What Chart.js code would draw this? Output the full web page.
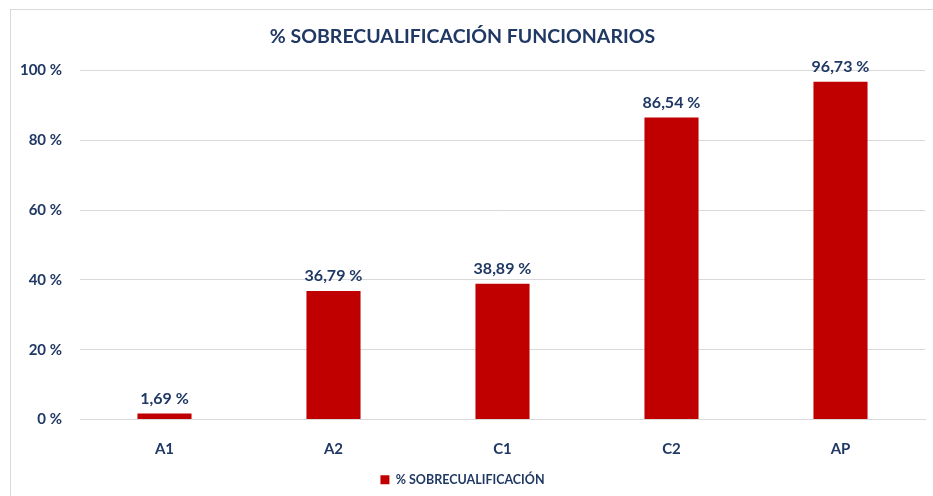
<!DOCTYPE html>
<html>
<head>
<meta charset="utf-8">
<style>
  html, body { margin: 0; padding: 0; background: #fff; }
  #wrap { position: relative; width: 933px; height: 496px; overflow: hidden; }
  #frame { position: absolute; left: 10px; top: 9px; width: 940px; height: 500px;
           border-left: 1px solid #d9d9d9; border-top: 1px solid #d9d9d9; }
  canvas { position: absolute; left: 0; top: 0; }
</style>
</head>
<body>
<div id="wrap">
  <div id="frame"></div>
  <canvas id="chart" width="933" height="496"></canvas>
</div>

<script src="https://cdn.jsdelivr.net/npm/chart.js"></script>
<script>
    const categories = ['A1', 'A2', 'C1', 'C2', 'AP']
    const sobrecualificacion = [1.69, 36.79, 38.89, 86.54, 96.73]
    const yTicks = [0, 20, 40, 60, 80, 100]

    const navy = '#1f3864'
    const red = '#c00000'
    const font = 'Lato, "Open Sans", sans-serif'

    // etiquetas encima de cada barra
    const barLabels = {
        id: 'barLabels',
        afterDatasetsDraw(chart) {
            const ctx = chart.ctx
            ctx.save()
            ctx.fillStyle = navy
            ctx.font = 'bold 16px ' + font
            ctx.textAlign = 'center'
            ctx.textBaseline = 'bottom'
            chart.getDatasetMeta(0).data.forEach((bar, i) => {
                const v = chart.data.datasets[0].data[i]
                ctx.fillText(v.toFixed(2).replace('.', ',') + ' %', bar.x, bar.y - 7)
            })
            ctx.restore()
        }
    }

    new Chart(document.getElementById('chart'), {
        type: 'bar',
        data: {
            labels: categories,
            datasets: [{
                label: '% SOBRECUALIFICACIÓN',
                data: sobrecualificacion,
                backgroundColor: red,
                borderWidth: 0,
                barPercentage: 0.64,
                categoryPercentage: 0.5
            }]
        },
        plugins: [barLabels],
        options: {
            responsive: false,
            animation: false,
            layout: { padding: { left: 0, right: 8, top: 0, bottom: 0 } },
            plugins: {
                title: {
                    display: true,
                    text: '% SOBRECUALIFICACIÓN FUNCIONARIOS',
                    color: navy,
                    font: { family: font, size: 19.5, weight: 'bold' },
                    padding: { top: 25, bottom: 22 }
                },
                legend: {
                    position: 'bottom',
                    labels: {
                        color: navy,
                        font: { family: font, size: 12.5, weight: 'bold' },
                        boxWidth: 9,
                        boxHeight: 9,
                        padding: 10
                    }
                },
                tooltip: { enabled: false }
            },
            scales: {
                x: {
                    grid: { display: false },
                    border: { color: '#d9d9d9' },
                    ticks: {
                        color: navy,
                        font: { family: font, size: 15, weight: 'bold' },
                        padding: 13
                    },
                    afterFit(scale) { scale.height = 44 }
                },
                y: {
                    min: 0,
                    max: 100,
                    afterBuildTicks(scale) { scale.ticks = yTicks.map(v => ({ value: v })) },
                    grid: { color: '#d9d9d9', drawTicks: false },
                    border: { display: false },
                    ticks: {
                        color: navy,
                        font: { family: font, size: 15, weight: 'bold' },
                        padding: 18,
                        callback: v => v + ' %'
                    },
                    afterFit(scale) { scale.width = 80 }
                }
            }
        }
    })
</script>
</body>
</html>
